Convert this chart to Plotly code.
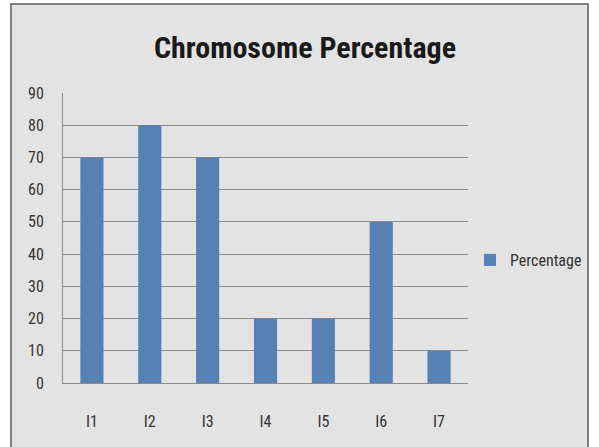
import plotly.graph_objects as go

categories = ["I1", "I2", "I3", "I4", "I5", "I6", "I7"]
percentage = [70, 80, 70, 20, 20, 50, 10]
y_ticks = [0, 10, 20, 30, 40, 50, 60, 70, 80, 90]

W, H = 599, 447
L, R, T, B = 63, 131, 93, 64
pw, ph = W - L - R, H - T - B

def px_x(x):
    return (x - L) / pw

def px_y(y):
    return (H - B - y) / ph

font_family = "Liberation Sans Narrow, Roboto Condensed, DejaVu Sans Condensed, sans-serif"
bg = "#E3E3E3"

fig = go.Figure()
fig.add_trace(go.Bar(x=categories, y=percentage, name="Percentage",
                     marker=dict(color="#5780B5", line=dict(width=0))))

fig.update_layout(
    width=W, height=H,
    margin=dict(l=L, r=R, t=T, b=B, autoexpand=False),
    paper_bgcolor="white",
    plot_bgcolor=bg,
    bargap=0.6,
    showlegend=True,
    title=dict(text="<b>Chromosome Percentage</b>", x=px_x(305), xanchor="center",
               xref="paper", y=1 - 47 / H, yanchor="middle",
               font=dict(family=font_family, size=30, color="#1a1a1a")),
    legend=dict(x=px_x(470), xanchor="left", y=px_y(260), yanchor="middle",
                font=dict(family=font_family, size=16, color="#333333"),
                bgcolor="rgba(0,0,0,0)", itemwidth=30),
    font=dict(family=font_family, size=16, color="#333333"),
    xaxis=dict(showgrid=False, showline=True, linecolor="#8C8C8C", linewidth=1,
               ticks="", ticklabelstandoff=24, tickfont=dict(size=16)),
    yaxis=dict(range=[0, 90], tickvals=y_ticks, showgrid=True, gridcolor="#8C8C8C",
               gridwidth=1, showline=True, linecolor="#8C8C8C", linewidth=1,
               zeroline=False, ticks="", ticklabelstandoff=15, tickfont=dict(size=16)),
    shapes=[dict(type="rect", xref="paper", yref="paper", layer="below",
                 x0=px_x(11), x1=px_x(588), y0=px_y(460), y1=px_y(4),
                 fillcolor=bg, line=dict(color="#7F7F7F", width=2))],
)

fig.write_html("out.html", config={"displayModeBar": False},
               post_script="document.body.style.margin='0';document.body.style.overflow='hidden';")
